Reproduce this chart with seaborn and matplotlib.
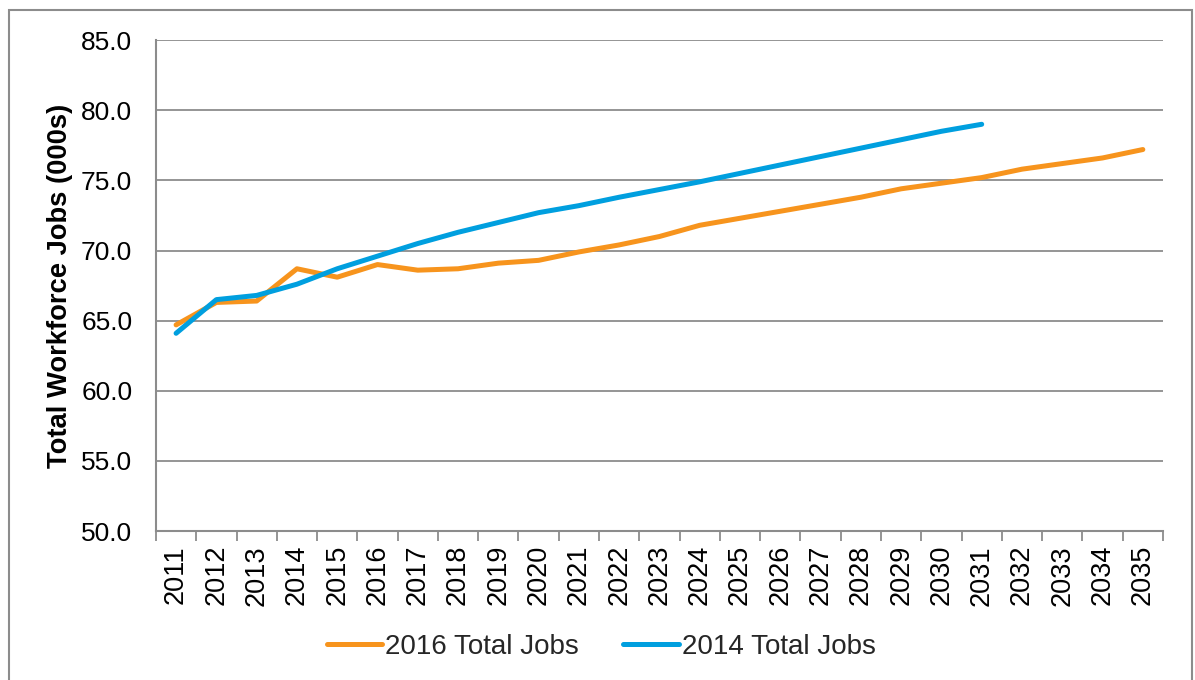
import numpy as np
import pandas as pd
import matplotlib.pyplot as plt
import seaborn as sns
from matplotlib.ticker import FixedLocator

sns.set_style('white')
plt.rcParams['font.family'] = ['Liberation Sans', 'DejaVu Sans']

years = [str(y) for y in range(2011, 2036)]

jobs_2016 = [64.7, 66.3, 66.4, 68.7, 68.1, 69.0, 68.6, 68.7, 69.1, 69.3,
             69.9, 70.4, 71.0, 71.8, 72.3, 72.8, 73.3, 73.8, 74.4, 74.8,
             75.2, 75.8, 76.2, 76.6, 77.2]
jobs_2014 = [64.1, 66.5, 66.8, 67.6, 68.7, 69.6, 70.5, 71.3, 72.0, 72.7,
             73.2, 73.8, 74.35, 74.9, 75.5, 76.1, 76.7, 77.3, 77.9, 78.5,
             79.0]

series_names = ['2016 Total Jobs', '2014 Total Jobs']
colors = ['#F7941D', '#009FDF']

df = pd.concat([
    pd.DataFrame({'year': years, 'jobs': jobs_2016, 'series': series_names[0]}),
    pd.DataFrame({'year': years[:len(jobs_2014)], 'jobs': jobs_2014, 'series': series_names[1]}),
])

fig = plt.figure(figsize=(11.95, 6.8), dpi=100)
ax = fig.add_axes([0.1305, 0.219, 0.8427, 0.722])

sns.lineplot(data=df, x='year', y='jobs', hue='series', hue_order=series_names,
             palette=colors, linewidth=3.6, ax=ax, sort=False,
             solid_capstyle='round')

ax.set_ylim(50, 85)
ax.set_yticks(np.arange(50, 86, 5))
ax.set_yticklabels([f'{v:.1f}' for v in np.arange(50, 86, 5)])
ax.set_xlim(-0.5, len(years) - 0.5)
ax.set_xticks(range(len(years)))
ax.set_xticklabels(years, rotation=90)
ax.xaxis.set_minor_locator(FixedLocator(np.arange(-0.5, len(years), 1)))

ax.grid(axis='y', color='#8c8c8c', linewidth=1.3)
ax.set_axisbelow(True)
for side in ['top', 'right']:
    ax.spines[side].set_visible(False)
for side in ['left', 'bottom']:
    ax.spines[side].set_color('#8c8c8c')
    ax.spines[side].set_linewidth(1.5)

ax.tick_params(axis='y', which='major', length=7, color='#8c8c8c', width=1.3,
               labelsize=19, pad=10, labelcolor='black')
ax.tick_params(axis='x', which='major', length=0, labelsize=19.5, pad=10,
               labelcolor='black')
ax.tick_params(axis='x', which='minor', length=7, color='#8c8c8c', width=1.3,
               bottom=True)

ax.set_xlabel('')
ax.set_ylabel('Total Workforce Jobs (000s)', fontsize=19.7, fontweight='bold',
              labelpad=6, color='black')

ax.legend(loc='center', bbox_to_anchor=(0.503, 0.0485), bbox_transform=fig.transFigure,
          ncol=2, frameon=False, fontsize=20, handlelength=2.0, handletextpad=0.1,
          columnspacing=1.6)

fig.patches.append(plt.Rectangle((0.0075, -0.05), 0.99, 1.036, transform=fig.transFigure,
                                 fill=False, edgecolor='#8c8c8c', linewidth=1.5))

fig.savefig('out.png', dpi=100)
